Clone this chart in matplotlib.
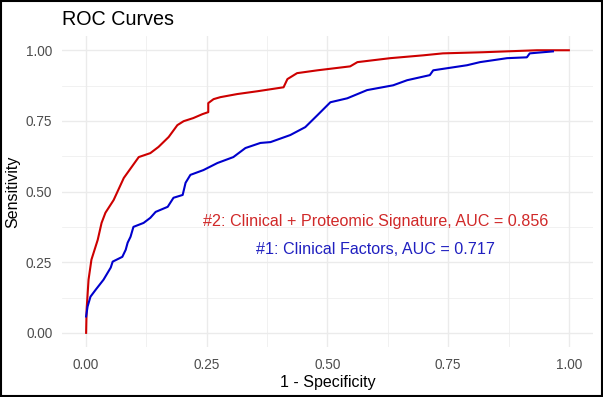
import numpy as np
import matplotlib
matplotlib.use("Agg")
import matplotlib.pyplot as plt
from matplotlib.ticker import MultipleLocator

# ── Data ─────────────────────────────────────────────────────────────
red_fpr = [0.0, 0.001, 0.005, 0.011, 0.024, 0.032, 0.040, 0.057, 0.078, 0.109,
           0.133, 0.150, 0.171, 0.189, 0.202, 0.222, 0.241, 0.253, 0.253, 0.264,
           0.278, 0.313, 0.355, 0.409, 0.417, 0.437, 0.479, 0.547, 0.562, 0.630,
           0.698, 0.739, 0.822, 0.934, 1.0]
red_tpr = [0.0, 0.082, 0.188, 0.259, 0.329, 0.389, 0.425, 0.470, 0.548, 0.622,
           0.636, 0.658, 0.693, 0.735, 0.749, 0.760, 0.774, 0.781, 0.813, 0.827,
           0.834, 0.845, 0.855, 0.869, 0.898, 0.919, 0.929, 0.943, 0.958, 0.972,
           0.982, 0.989, 0.993, 1.0, 1.0]

blue_fpr = [0.0, 0.003, 0.009, 0.020, 0.036, 0.051, 0.055, 0.075, 0.082, 0.086,
            0.092, 0.098, 0.119, 0.133, 0.144, 0.169, 0.181, 0.200, 0.206, 0.216,
            0.243, 0.272, 0.305, 0.330, 0.361, 0.382, 0.423, 0.454, 0.479, 0.506,
            0.541, 0.582, 0.636, 0.665, 0.712, 0.719, 0.789, 0.816, 0.872, 0.913,
            0.919, 0.967]
blue_tpr = [0.058, 0.093, 0.128, 0.153, 0.188, 0.231, 0.252, 0.269, 0.294, 0.319,
            0.340, 0.375, 0.389, 0.407, 0.428, 0.446, 0.478, 0.488, 0.531, 0.559,
            0.576, 0.601, 0.622, 0.654, 0.672, 0.675, 0.700, 0.728, 0.770, 0.816,
            0.830, 0.859, 0.876, 0.894, 0.912, 0.929, 0.947, 0.958, 0.972, 0.975,
            0.989, 0.996]

labels = ["#2: Clinical + Proteomic Signature, AUC = 0.856",
          "#1: Clinical Factors, AUC = 0.717"]
ticks = [0.0, 0.25, 0.5, 0.75, 1.0]

RED = "#CD0000"
BLUE = "#0000CD"

plt.rcParams["font.family"] = ["Liberation Sans", "DejaVu Sans"]

fig = plt.figure(figsize=(6.03, 3.97), dpi=100)
ax = fig.add_axes([0.1028, 0.126, 0.8806, 0.783])

ax.plot(red_fpr, red_tpr, color=RED, lw=1.5, zorder=3)
ax.plot(blue_fpr, blue_tpr, color=BLUE, lw=1.5, zorder=3)

ax.text(0.6, 0.393, labels[0], color="#D02828", fontsize=11.6, ha="center", va="center")
ax.text(0.6, 0.294, labels[1], color="#2020C0", fontsize=11.6, ha="center", va="center")

ax.set_xlim(-0.05, 1.05)
ax.set_ylim(-0.05, 1.05)
ax.set_xticks(ticks)
ax.set_yticks(ticks)
ax.set_xticklabels([f"{t:.2f}" for t in ticks])
ax.set_yticklabels([f"{t:.2f}" for t in ticks])
ax.xaxis.set_minor_locator(MultipleLocator(0.125))
ax.yaxis.set_minor_locator(MultipleLocator(0.125))
ax.grid(which="major", color="#EBEBEB", lw=1.0)
ax.grid(which="minor", color="#EBEBEB", lw=0.5)
ax.set_axisbelow(True)
ax.tick_params(which="both", length=0, labelsize=9.8, labelcolor="#4D4D4D")
ax.tick_params(axis="x", pad=8)
ax.tick_params(axis="y", pad=7)
for s in ax.spines.values():
    s.set_visible(False)

ax.set_xlabel("1 - Specificity", fontsize=11.5, labelpad=2)
ax.set_ylabel("Sensitivity", fontsize=11.5, labelpad=4)
ax.set_title("ROC Curves", fontsize=14.2, loc="left", pad=8)

# frame around the whole picture
fig.patches.append(plt.Rectangle((0.0015, 0.002), 0.997, 0.996, transform=fig.transFigure,
                                 fill=False, edgecolor="black", lw=1.5))

fig.savefig("out.png", dpi=100, facecolor="white")
